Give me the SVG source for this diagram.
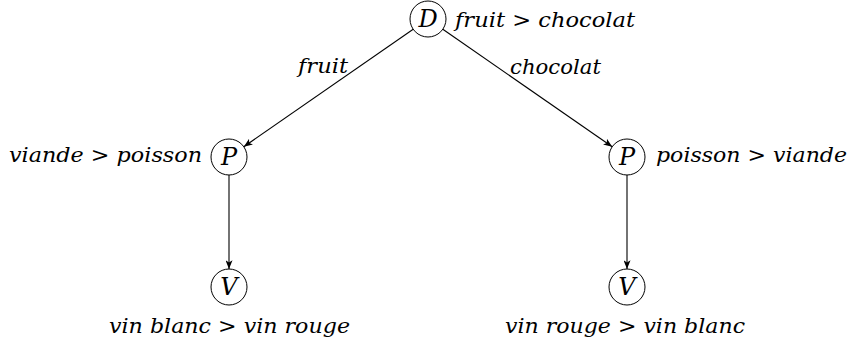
<svg xmlns="http://www.w3.org/2000/svg" width="850" height="341" viewBox="0 0 850 341">
<style>
  text { font-family: "DejaVu Serif", "Liberation Serif", serif; font-style: italic; font-size: 21px; fill: #000; }
  .node circle { fill: #fff; stroke: #000; stroke-width: 1; }
  .lbl { text-anchor: middle; font-size: 24px; }
  .edge { stroke: #000; stroke-width: 1.1; fill: none; marker-end: url(#arr); }
</style>
<defs>
  <marker id="arr" viewBox="0 0 10 8" refX="10" refY="4" markerWidth="9" markerHeight="7" markerUnits="userSpaceOnUse" orient="auto">
    <path d="M0,0 L10,4 L0,8 L2.5,4 Z" fill="#000"/>
  </marker>
</defs>
<g id="connectors">
  <line class="edge" x1="413.2" y1="29.3" x2="243.8" y2="146.7"/>
  <line class="edge" x1="442.8" y1="29.3" x2="612.2" y2="146.7"/>
  <line class="edge" x1="229" y1="175" x2="229" y2="269"/>
  <line class="edge" x1="627" y1="175" x2="627" y2="269"/>
  <text x="298" y="73" textLength="50" lengthAdjust="spacingAndGlyphs">fruit</text>
  <text x="510" y="74" textLength="91" lengthAdjust="spacingAndGlyphs">chocolat</text>
</g>
<g id="nD" class="node">
  <circle cx="428" cy="19" r="18"/>
  <text class="lbl" x="428" y="27">D</text>
  <text x="455" y="27" textLength="180" lengthAdjust="spacingAndGlyphs">fruit &gt; chocolat</text>
</g>
<g id="nP1" class="node">
  <circle cx="229" cy="157" r="18"/>
  <text class="lbl" x="229" y="165">P</text>
  <text x="9" y="162" textLength="193" lengthAdjust="spacingAndGlyphs">viande &gt; poisson</text>
</g>
<g id="nP2" class="node">
  <circle cx="627" cy="157" r="18"/>
  <text class="lbl" x="627" y="165">P</text>
  <text x="656" y="162" textLength="191" lengthAdjust="spacingAndGlyphs">poisson &gt; viande</text>
</g>
<g id="nV1" class="node">
  <circle cx="229" cy="287" r="18"/>
  <text class="lbl" x="229" y="295">V</text>
  <text x="109" y="333" textLength="241" lengthAdjust="spacingAndGlyphs">vin blanc &gt; vin rouge</text>
</g>
<g id="nV2" class="node">
  <circle cx="627" cy="287" r="18"/>
  <text class="lbl" x="627" y="295">V</text>
  <text x="505" y="333" textLength="240" lengthAdjust="spacingAndGlyphs">vin rouge &gt; vin blanc</text>
</g>
</svg>
